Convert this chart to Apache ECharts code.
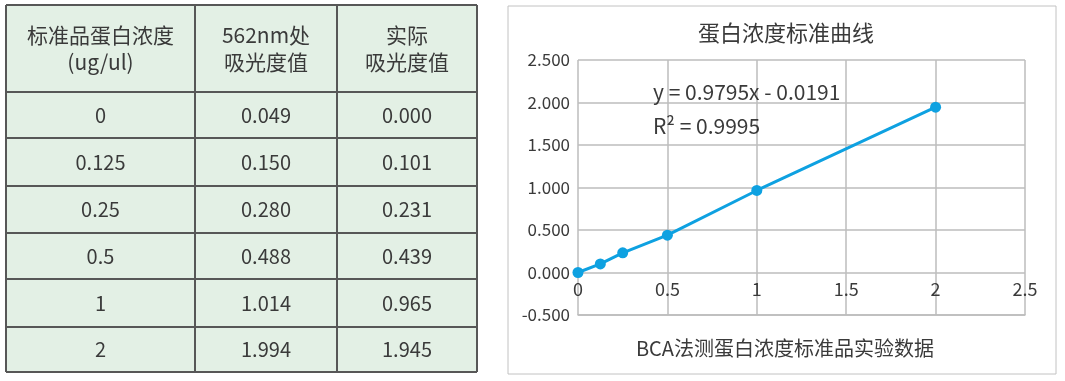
<!DOCTYPE html>
<html>
<head>
<meta charset="utf-8">
<script src="https://cdn.jsdelivr.net/npm/echarts@6/dist/echarts.min.js"></script>
<style>
  html, body { margin: 0; padding: 0; background: #ffffff; }
  #main { width: 1065px; height: 381px; }
</style>
</head>
<body>
<div id="main"></div>
<script>
// Standard protein concentrations (ug/ul)
const concentration = [0, 0.125, 0.25, 0.5, 1, 2];
// Absorbance read at 562 nm
const abs562 = [0.049, 0.150, 0.280, 0.488, 1.014, 1.994];
// Blank-corrected ("actual") absorbance
const absActual = [0.000, 0.101, 0.231, 0.439, 0.965, 1.945];

// Table header lines, one list per column
const tableHeaders = [
  ['标准品蛋白浓度', '(ug/ul)'],
  ['562nm处', '吸光度值'],
  ['实际', '吸光度值']
];

// Axis ranges / steps
const xTicks = { min: 0, max: 2.5, step: 0.5 };
const yTicks = { min: -0.5, max: 2.5, step: 0.5 };

// Text of the chart
const chartTitle = '蛋白浓度标准曲线';
const xAxisTitle = 'BCA法测蛋白浓度标准品实验数据';
const fitEquation = 'y = 0.9795x - 0.0191';
const fitR2 = 'R² = 0.9995';

const FONT = '"Noto Sans CJK SC", "Noto Sans", sans-serif';
const TEXT = '#3a3a3a';
const GRID_LINE = '#bcbcbc';
const LINE_BLUE = '#0ea1e1';

// ---- table layout ----
const tbl = {
  colEdges: [6, 195, 337, 477],
  rowEdges: [5, 92, 138, 186, 233, 279, 327, 372]
};

function buildTable() {
  const els = [];
  const x0 = tbl.colEdges[0], x1 = tbl.colEdges[tbl.colEdges.length - 1];
  const y0 = tbl.rowEdges[0], y1 = tbl.rowEdges[tbl.rowEdges.length - 1];
  els.push({
    type: 'rect',
    shape: { x: x0, y: y0, width: x1 - x0, height: y1 - y0 },
    style: { fill: '#e3f0e5', stroke: 'none' }
  });
  tbl.rowEdges.forEach(function (y) {
    els.push({ type: 'line', shape: { x1: x0, y1: y, x2: x1, y2: y },
      style: { stroke: '#575757', lineWidth: 2 } });
  });
  tbl.colEdges.forEach(function (x) {
    els.push({ type: 'line', shape: { x1: x, y1: y0, x2: x, y2: y1 },
      style: { stroke: '#575757', lineWidth: 2 } });
  });
  // header cells
  tableHeaders.forEach(function (lines, c) {
    const cx = (tbl.colEdges[c] + tbl.colEdges[c + 1]) / 2;
    const cy = (tbl.rowEdges[0] + tbl.rowEdges[1]) / 2;
    lines.forEach(function (t, k) {
      els.push({ type: 'text', x: cx, y: cy + (k - 0.5) * 27,
        style: { text: t, fill: TEXT, font: '21px ' + FONT, align: 'center', verticalAlign: 'middle' } });
    });
  });
  // body cells
  const columns = [
    concentration.map(function (v) { return String(v); }),
    abs562.map(function (v) { return v.toFixed(3); }),
    absActual.map(function (v) { return v.toFixed(3); })
  ];
  columns.forEach(function (col, c) {
    const cx = (tbl.colEdges[c] + tbl.colEdges[c + 1]) / 2;
    col.forEach(function (t, r) {
      const cy = (tbl.rowEdges[r + 1] + tbl.rowEdges[r + 2]) / 2;
      els.push({ type: 'text', x: cx, y: cy,
        style: { text: t, fill: TEXT, font: '20px ' + FONT, align: 'center', verticalAlign: 'middle' } });
    });
  });
  return els;
}

// ---- chart panel ----
const panel = { x: 508, y: 6, w: 548, h: 368 };
const gridBox = { left: 578, top: 60, right: 1065 - 1025, bottom: 381 - 315 };

const chart = echarts.init(document.getElementById('main'), null, { renderer: 'canvas' });

const graphics = buildTable().concat([
  { type: 'rect', shape: { x: panel.x, y: panel.y, width: panel.w, height: panel.h },
    style: { fill: '#ffffff', stroke: '#c2c2c2', lineWidth: 1 }, z: -1 },
  { type: 'text', x: 786, y: 33,
    style: { text: chartTitle, fill: TEXT, font: '22px ' + FONT, align: 'center', verticalAlign: 'middle' } },
  { type: 'text', x: 785, y: 348,
    style: { text: xAxisTitle, fill: TEXT, font: '20px ' + FONT, align: 'center', verticalAlign: 'middle' } },
  { type: 'text', x: 653, y: 92, z: 10,
    style: { text: fitEquation, fill: TEXT, font: '21px ' + FONT, align: 'left', verticalAlign: 'middle' } },
  { type: 'text', x: 653, y: 126, z: 10,
    style: { text: fitR2, fill: TEXT, font: '21px ' + FONT, align: 'left', verticalAlign: 'middle' } }
]);

chart.setOption({
  animation: false,
  backgroundColor: '#ffffff',
  textStyle: { fontFamily: FONT },
  grid: gridBox,
  xAxis: {
    type: 'value',
    min: xTicks.min, max: xTicks.max, interval: xTicks.step,
    axisLine: { show: true, onZero: false, lineStyle: { color: GRID_LINE, width: 1.5 } },
    axisTick: { show: false },
    // labels sit just under the y = 0 line, one grid step above the bottom edge
    axisLabel: { color: TEXT, fontSize: 18, margin: -35, fontFamily: FONT },
    splitLine: { show: true, lineStyle: { color: GRID_LINE, width: 1.5 } }
  },
  yAxis: {
    type: 'value',
    min: yTicks.min, max: yTicks.max, interval: yTicks.step,
    axisLine: { show: false },
    axisTick: { show: false },
    axisLabel: { color: TEXT, fontSize: 17, margin: 8, fontFamily: FONT,
      formatter: function (v) { return v.toFixed(3); } },
    splitLine: { show: true, lineStyle: { color: GRID_LINE, width: 1.5 } }
  },
  graphic: graphics,
  series: [{
    type: 'line',
    data: concentration.map(function (x, i) { return [x, absActual[i]]; }),
    symbol: 'circle',
    symbolSize: 11,
    showAllSymbol: true,
    lineStyle: { color: LINE_BLUE, width: 3 },
    itemStyle: { color: LINE_BLUE },
    z: 5
  }]
});
</script>
</body>
</html>
